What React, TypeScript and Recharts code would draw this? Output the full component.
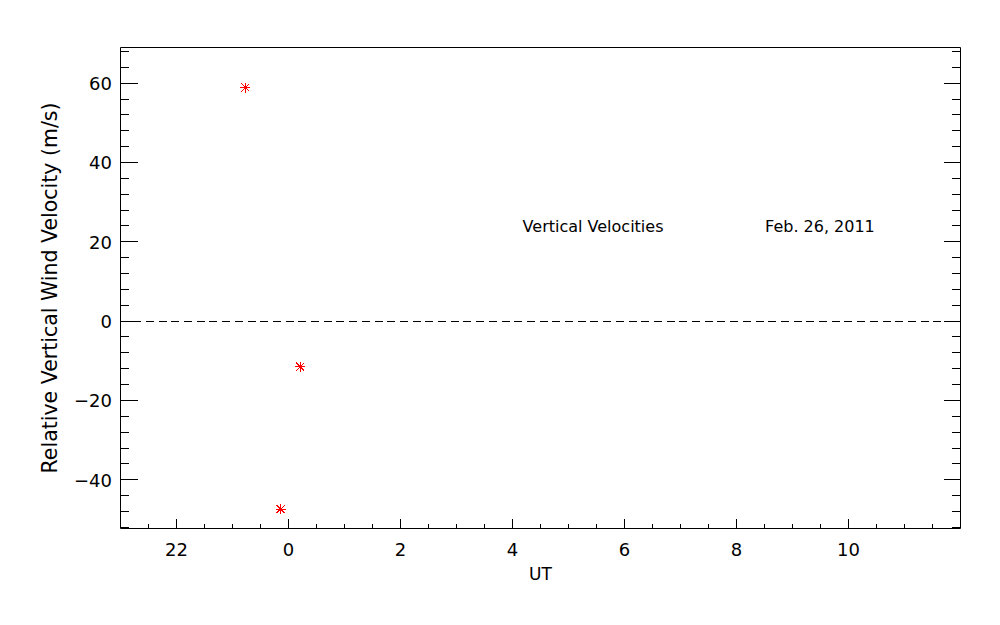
import { ScatterChart, Scatter, XAxis, YAxis, ReferenceLine, ReferenceDot } from "recharts";

// measurements (UT hours past midnight of previous day, m/s)
const utHours = [23.23, 23.86, 24.21];
const verticalVelocities = [58.9, -47.4, -11.5];

const xDomain = [21, 36];
const yDomain = [-52.3, 69];
const xMajorTicks = [22, 24, 26, 28, 30, 32, 34];
const yMajorTicks = [-40, -20, 0, 20, 40, 60];

const annotationTexts = ["Vertical Velocities", "Feb. 26, 2011"];
const annotationX = [28.18, 32.51];
const annotationY = [22.4, 22.4];

const FONT = "DejaVu Sans";

// minor ticks every half hour / every 4 m/s
const xTicks: number[] = [];
for (let v = 21.5; v < 36; v += 0.5) xTicks.push(v);
const yTicks: number[] = [];
for (let v = -52; v <= 68; v += 4) yTicks.push(v);

const data = utHours.map((x, i) => ({ x, y: verticalVelocities[i] }));

const fmtUT = (v: number) => String(((v % 24) + 24) % 24);
const fmtY = (v: number) => (v < 0 ? "\u2212" + Math.abs(v) : String(v));

function BottomTick({ x, y, payload }: any) {
  const major = xMajorTicks.includes(payload.value);
  return (
    <g>
      <line x1={x} x2={x} y1={y} y2={y - (major ? 10 : 5)} stroke="#000" shapeRendering="crispEdges" />
      {major && (
        <text x={x} y={y + 27.5} textAnchor="middle" fontSize={18} fontFamily={FONT} fill="#000">
          {fmtUT(payload.value)}
        </text>
      )}
    </g>
  );
}

function TopTick({ x, y, payload }: any) {
  const major = xMajorTicks.includes(payload.value);
  return <line x1={x} x2={x} y1={y} y2={y + (major ? 10 : 5)} stroke="#000" shapeRendering="crispEdges" />;
}

function LeftTick({ x, y, payload }: any) {
  const major = yMajorTicks.includes(payload.value);
  return (
    <g>
      <line x1={x} x2={x + (major ? 17 : 8.5)} y1={y} y2={y} stroke="#000" shapeRendering="crispEdges" />
      {major && (
        <text x={x - 8.5} y={y + 7} textAnchor="end" fontSize={18} fontFamily={FONT} fill="#000">
          {fmtY(payload.value)}
        </text>
      )}
    </g>
  );
}

function RightTick({ x, y, payload }: any) {
  const major = yMajorTicks.includes(payload.value);
  return <line x1={x} x2={x - (major ? 17 : 8.5)} y1={y} y2={y} stroke="#000" shapeRendering="crispEdges" />;
}

function Asterisk({ cx, cy }: any) {
  const r = 5;
  const d = 4;
  return (
    <g stroke="#ff0000" strokeWidth={1} shapeRendering="crispEdges">
      <line x1={cx - r} x2={cx + r} y1={cy} y2={cy} />
      <line x1={cx} x2={cx} y1={cy - r} y2={cy + r} />
      <line x1={cx - d} x2={cx + d} y1={cy - d} y2={cy + d} />
      <line x1={cx - d} x2={cx + d} y1={cy + d} y2={cy - d} />
    </g>
  );
}

export default function App() {
  return (
    <div style={{ position: "absolute", left: 0, top: 0, width: 1000, height: 625, background: "#fff" }}>
      <ScatterChart width={1000} height={625} margin={{ top: 27.5, right: 19.5, bottom: 56.5, left: 60.5 }}>
        <XAxis
          type="number"
          dataKey="x"
          domain={xDomain}
          allowDataOverflow
          ticks={xTicks}
          interval={0}
          height={40}
          tickSize={0}
          tickMargin={0}
          tick={<BottomTick />}
          axisLine={{ stroke: "#000" }}
          label={(p: any) => (
            <text
              x={p.viewBox.x + p.viewBox.width / 2}
              y={580}
              textAnchor="middle"
              fontSize={17}
              fontFamily={FONT}
              fill="#000"
            >
              UT
            </text>
          )}
        />
        <XAxis
          xAxisId="top"
          orientation="top"
          type="number"
          domain={xDomain}
          allowDataOverflow
          ticks={xTicks}
          interval={0}
          height={20}
          tickSize={0}
          tickMargin={0}
          tick={<TopTick />}
          axisLine={{ stroke: "#000" }}
        />
        <YAxis
          type="number"
          dataKey="y"
          domain={yDomain}
          allowDataOverflow
          ticks={yTicks}
          interval={0}
          width={60}
          tickSize={0}
          tickMargin={0}
          tick={<LeftTick />}
          axisLine={{ stroke: "#000" }}
          label={(p: any) => {
            const cy = p.viewBox.y + p.viewBox.height / 2;
            return (
              <text
                x={56.5}
                y={cy}
                transform={`rotate(-90, 56.5, ${cy})`}
                textAnchor="middle"
                fontSize={20.5}
                fontFamily={FONT}
                fill="#000"
              >
                Relative Vertical Wind Velocity (m/s)
              </text>
            );
          }}
        />
        <YAxis
          yAxisId="right"
          orientation="right"
          type="number"
          domain={yDomain}
          allowDataOverflow
          ticks={yTicks}
          interval={0}
          width={20}
          tickSize={0}
          tickMargin={0}
          tick={<RightTick />}
          axisLine={{ stroke: "#000" }}
        />
        <ReferenceLine y={0} stroke="#000" strokeDasharray="8 4.7" shapeRendering="crispEdges" />
        {annotationTexts.map((t, i) => (
          <ReferenceDot
            key={t}
            x={annotationX[i]}
            y={annotationY[i]}
            r={0}
            shape={(p: any) => (
              <text x={p.cx} y={p.cy} fontSize={16} fontFamily={FONT} fill="#000">
                {t}
              </text>
            )}
          />
        ))}
        <Scatter data={data} shape={<Asterisk />} isAnimationActive={false} />
      </ScatterChart>
    </div>
  );
}
